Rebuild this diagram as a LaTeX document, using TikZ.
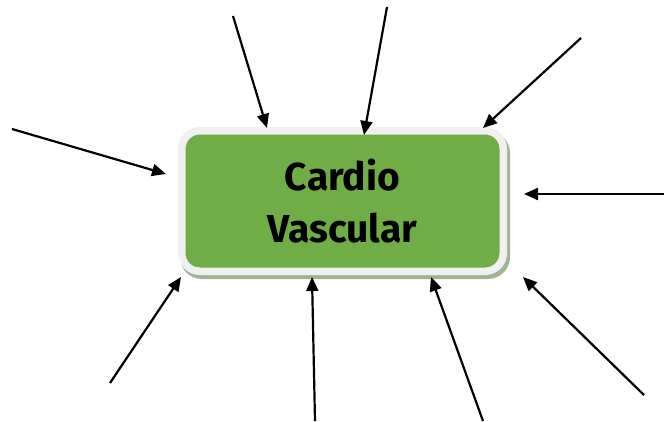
\documentclass[tikz,border=0pt]{standalone}
\usepackage{fontspec}
\setmainfont{Fira Sans}
\usepackage{tikz}
\usetikzlibrary{arrows.meta, positioning, calc, backgrounds}
\usepackage{xcolor}
\definecolor{cvgreen}{HTML}{70AD47}
\definecolor{cvrim}{HTML}{F0F0F0}
\definecolor{cvshadow}{HTML}{A3B396}

\begin{document}
\begin{tikzpicture}[
    x=1pt, y=-1pt,
    organ/.style={rectangle, rounded corners=18pt, minimum width=321.5pt, minimum height=140.5pt, line width=7.5pt, draw=cvrim, fill=cvgreen, align=center, font=\fontsize{39}{52}\selectfont\bfseries},
    arrow/.style={line width=2.2pt, -{Triangle[length=14pt, width=12pt]}}]
\useasboundingbox (0,0) rectangle (664,421);
\node (cv) [organ] at (342.5,201) {Cardio\\Vascular};
\begin{scope}[on background layer]
\fill [cvshadow, rounded corners=22pt] ($(cv.south west)+(2,4)$) rectangle ($(cv.north east)+(3,4)$);
\end{scope}
% arrow tails
\coordinate (t1) at (12,129);
\coordinate (t2) at (233,16);
\coordinate (t3) at (387,7);
\coordinate (t4) at (581,38);
\coordinate (t5) at (664,194);
\coordinate (t6) at (644,395);
\coordinate (t7) at (483,421);
\coordinate (t8) at (315,421);
\coordinate (t9) at (110,383);
% arrow heads
\coordinate (h1) at (166,174);
\coordinate (h2) at (267,128);
\coordinate (h3) at (364,135);
\coordinate (h4) at (483,128);
\coordinate (h5) at (524,194);
\coordinate (h6) at (523,277);
\coordinate (h7) at (431,277);
\coordinate (h8) at (312,277);
\coordinate (h9) at (181,277);
\draw [arrow] (t1) -- (h1);
\draw [arrow] (t2) -- (h2);
\draw [arrow] (t3) -- (h3);
\draw [arrow] (t4) -- (h4);
\draw [arrow] (t5) -- (h5);
\draw [arrow] (t6) -- (h6);
\draw [arrow] (t7) -- (h7);
\draw [arrow] (t8) -- (h8);
\draw [arrow] (t9) -- (h9);
\end{tikzpicture}
\end{document}
